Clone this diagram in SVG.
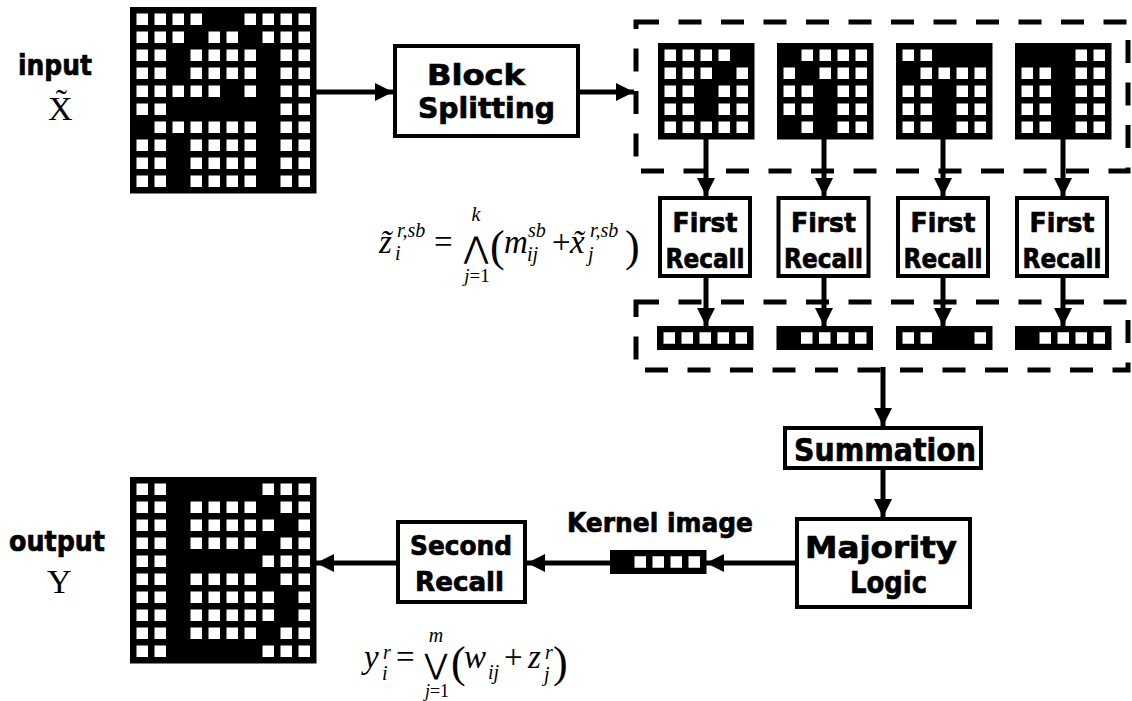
<svg xmlns="http://www.w3.org/2000/svg" xmlns:xlink="http://www.w3.org/1999/xlink" width="1132" height="701" viewBox="0 0 1132 701">
<style>
.box{fill:#fff;stroke:#000;stroke-width:4}
.lbl{font-family:"DejaVu Sans","Liberation Sans",sans-serif;font-weight:bold;fill:#000;stroke:#000;stroke-width:0.7}
.m{font-family:"Liberation Serif","Times New Roman",serif;font-style:italic;fill:#000}
.up{font-style:normal}
.op{font-family:"DejaVu Serif","DejaVu Sans",serif;font-style:normal}
.conn{stroke:#000;stroke-width:5;fill:none;marker-end:url(#ah)}
.dash{fill:none;stroke:#000;stroke-width:5;stroke-dasharray:23 19.5}
.grid{fill:#000}
</style>
<defs>
<marker id="ah" markerUnits="userSpaceOnUse" markerWidth="18" markerHeight="18" refX="18" refY="9" orient="auto"><path d="M0,0 L18,9 L0,18 z" fill="#000"/></marker>
<rect id="s" width="11.5" height="11.5" fill="#fff"/>
<g id="rA"><use href="#s" x="6.5"/><use href="#s" x="24.5"/><use href="#s" x="60.5"/><use href="#s" x="78.5"/><use href="#s" x="96.5"/><use href="#s" x="114.5"/><use href="#s" x="150.5"/><use href="#s" x="168.5"/></g>
<g id="rB"><use href="#s" x="6.5"/><use href="#s" x="24.5"/><use href="#s" x="132.5"/><use href="#s" x="150.5"/><use href="#s" x="168.5"/></g>
<g id="rC"><use href="#s" x="6.5"/><use href="#s" x="24.5"/><use href="#s" x="60.5"/><use href="#s" x="78.5"/><use href="#s" x="96.5"/><use href="#s" x="114.5"/><use href="#s" x="132.5"/><use href="#s" x="168.5"/></g>
</defs>
<rect width="1132" height="701" fill="#fff"/>

<g id="input-label">
<text class="lbl" x="18" y="75" font-size="28" textLength="74" lengthAdjust="spacingAndGlyphs">input</text>
<text class="m up" x="48" y="120" font-size="34">X̃</text>
</g>

<g id="input-image" transform="translate(130,7)">
<rect class="grid" width="186.5" height="186.5"/>
<g transform="translate(0,6.5)"><use href="#s" x="6.5"/><use href="#s" x="24.5"/><use href="#s" x="42.5"/><use href="#s" x="60.5"/><use href="#s" x="114.5"/><use href="#s" x="132.5"/><use href="#s" x="150.5"/><use href="#s" x="168.5"/></g>
<g transform="translate(0,24.5)"><use href="#s" x="6.5"/><use href="#s" x="24.5"/><use href="#s" x="42.5"/><use href="#s" x="78.5"/><use href="#s" x="96.5"/><use href="#s" x="132.5"/><use href="#s" x="150.5"/><use href="#s" x="168.5"/></g>
<use href="#rA" y="42.5"/>
<use href="#rA" y="60.5"/>
<g transform="translate(0,78.5)"><use href="#s" x="6.5"/><use href="#s" x="24.5"/><use href="#s" x="42.5"/><use href="#s" x="60.5"/><use href="#s" x="78.5"/><use href="#s" x="114.5"/><use href="#s" x="150.5"/><use href="#s" x="168.5"/></g>
<g transform="translate(0,96.5)"><use href="#s" x="6.5"/><use href="#s" x="24.5"/><use href="#s" x="150.5"/><use href="#s" x="168.5"/></g>
<g transform="translate(0,114.5)"><use href="#s" x="24.5"/><use href="#s" x="42.5"/><use href="#s" x="60.5"/><use href="#s" x="78.5"/><use href="#s" x="96.5"/><use href="#s" x="114.5"/><use href="#s" x="150.5"/><use href="#s" x="168.5"/></g>
<use href="#rA" y="132.5"/>
<use href="#rA" y="150.5"/>
<use href="#rA" y="168.5"/>
</g>

<g id="block-splitting">
<rect class="box" x="395" y="46" width="183" height="90"/>
<text class="lbl" x="427" y="85" font-size="29" textLength="98" lengthAdjust="spacingAndGlyphs">Block</text>
<text class="lbl" x="418" y="118" font-size="29" textLength="137" lengthAdjust="spacingAndGlyphs">Splitting</text>
</g>

<g id="blocks-group">
<rect class="dash" x="636" y="22" width="492" height="149"/>
<g id="block1" transform="translate(658,43)">
<rect class="grid" width="96.5" height="96.5"/>
<g transform="translate(0,6.5)"><use href="#s" x="6.5"/><use href="#s" x="24.5"/><use href="#s" x="42.5"/><use href="#s" x="60.5"/></g>
<g transform="translate(0,24.5)"><use href="#s" x="6.5"/><use href="#s" x="24.5"/><use href="#s" x="42.5"/><use href="#s" x="78.5"/></g>
<g transform="translate(0,42.5)"><use href="#s" x="6.5"/><use href="#s" x="24.5"/><use href="#s" x="60.5"/><use href="#s" x="78.5"/></g>
<g transform="translate(0,60.5)"><use href="#s" x="6.5"/><use href="#s" x="24.5"/><use href="#s" x="60.5"/><use href="#s" x="78.5"/></g>
<g transform="translate(0,78.5)"><use href="#s" x="6.5"/><use href="#s" x="24.5"/><use href="#s" x="42.5"/><use href="#s" x="60.5"/><use href="#s" x="78.5"/></g>
</g>
<g id="block2" transform="translate(777,43)">
<rect class="grid" width="96.5" height="96.5"/>
<g transform="translate(0,6.5)"><use href="#s" x="24.5"/><use href="#s" x="42.5"/><use href="#s" x="60.5"/><use href="#s" x="78.5"/></g>
<g transform="translate(0,24.5)"><use href="#s" x="6.5"/><use href="#s" x="42.5"/><use href="#s" x="60.5"/><use href="#s" x="78.5"/></g>
<g transform="translate(0,42.5)"><use href="#s" x="6.5"/><use href="#s" x="24.5"/><use href="#s" x="60.5"/><use href="#s" x="78.5"/></g>
<g transform="translate(0,60.5)"><use href="#s" x="6.5"/><use href="#s" x="24.5"/><use href="#s" x="60.5"/><use href="#s" x="78.5"/></g>
<g transform="translate(0,78.5)"><use href="#s" x="24.5"/><use href="#s" x="60.5"/><use href="#s" x="78.5"/></g>
</g>
<g id="block3" transform="translate(896,43)">
<rect class="grid" width="96.5" height="96.5"/>
<g transform="translate(0,6.5)"><use href="#s" x="6.5"/><use href="#s" x="24.5"/></g>
<g transform="translate(0,24.5)"><use href="#s" x="24.5"/><use href="#s" x="42.5"/><use href="#s" x="60.5"/><use href="#s" x="78.5"/></g>
<g transform="translate(0,42.5)"><use href="#s" x="6.5"/><use href="#s" x="24.5"/><use href="#s" x="60.5"/><use href="#s" x="78.5"/></g>
<g transform="translate(0,60.5)"><use href="#s" x="6.5"/><use href="#s" x="24.5"/><use href="#s" x="60.5"/><use href="#s" x="78.5"/></g>
<g transform="translate(0,78.5)"><use href="#s" x="6.5"/><use href="#s" x="24.5"/><use href="#s" x="60.5"/><use href="#s" x="78.5"/></g>
</g>
<g id="block4" transform="translate(1015,43)">
<rect class="grid" width="96.5" height="96.5"/>
<g transform="translate(0,6.5)"><use href="#s" x="60.5"/><use href="#s" x="78.5"/></g>
<g transform="translate(0,24.5)"><use href="#s" x="6.5"/><use href="#s" x="24.5"/><use href="#s" x="60.5"/><use href="#s" x="78.5"/></g>
<g transform="translate(0,42.5)"><use href="#s" x="6.5"/><use href="#s" x="24.5"/><use href="#s" x="60.5"/><use href="#s" x="78.5"/></g>
<g transform="translate(0,60.5)"><use href="#s" x="6.5"/><use href="#s" x="24.5"/><use href="#s" x="60.5"/><use href="#s" x="78.5"/></g>
<g transform="translate(0,78.5)"><use href="#s" x="6.5"/><use href="#s" x="24.5"/><use href="#s" x="60.5"/><use href="#s" x="78.5"/></g>
</g>
</g>

<g id="first-recall-1">
<rect class="box" x="660" y="198" width="90" height="78"/>
<text class="lbl" x="672.5" y="232" font-size="26" textLength="65" lengthAdjust="spacingAndGlyphs">First</text>
<text class="lbl" x="665.5" y="268" font-size="26" textLength="79" lengthAdjust="spacingAndGlyphs">Recall</text>
</g>
<g id="first-recall-2">
<rect class="box" x="778.5" y="198" width="90" height="78"/>
<text class="lbl" x="791" y="232" font-size="26" textLength="65" lengthAdjust="spacingAndGlyphs">First</text>
<text class="lbl" x="784" y="268" font-size="26" textLength="79" lengthAdjust="spacingAndGlyphs">Recall</text>
</g>
<g id="first-recall-3">
<rect class="box" x="898" y="198" width="90" height="78"/>
<text class="lbl" x="910.5" y="232" font-size="26" textLength="65" lengthAdjust="spacingAndGlyphs">First</text>
<text class="lbl" x="903.5" y="268" font-size="26" textLength="79" lengthAdjust="spacingAndGlyphs">Recall</text>
</g>
<g id="first-recall-4">
<rect class="box" x="1017" y="198" width="90" height="78"/>
<text class="lbl" x="1029.5" y="232" font-size="26" textLength="65" lengthAdjust="spacingAndGlyphs">First</text>
<text class="lbl" x="1022.5" y="268" font-size="26" textLength="79" lengthAdjust="spacingAndGlyphs">Recall</text>
</g>

<g id="formula-1" class="m">
<text x="379" y="253" font-size="33">z̃</text>
<text x="397" y="237" font-size="20">r,sb</text>
<text x="395" y="260" font-size="20">i</text>
<text class="up" x="434" y="253" font-size="33">=</text>
<text x="476" y="221" font-size="20" text-anchor="middle">k</text>
<text class="op" x="476" y="258" font-size="30" text-anchor="middle">⋀</text>
<text x="477" y="282" font-size="19" text-anchor="middle">j<tspan class="up">=1</tspan></text>
<text class="up" x="490" y="261" font-size="44">(</text>
<text x="504" y="253" font-size="33">m</text>
<text x="528" y="237" font-size="20">sb</text>
<text x="527" y="261" font-size="20">ij</text>
<text class="up" x="552" y="253" font-size="33">+</text>
<text x="570" y="253" font-size="33">x̃</text>
<text x="590" y="237" font-size="20">r,sb</text>
<text x="588" y="261" font-size="20">j</text>
<text class="up" x="625" y="261" font-size="44">)</text>
</g>

<g id="vectors-group">
<rect class="dash" x="636" y="302" width="492" height="68"/>
<g id="vec1" transform="translate(657,326)">
<rect class="grid" width="96.5" height="24"/>
<g transform="translate(0,6.25)"><use href="#s" x="6.5"/><use href="#s" x="24.5"/><use href="#s" x="42.5"/><use href="#s" x="60.5"/><use href="#s" x="78.5"/></g>
</g>
<g id="vec2" transform="translate(776.5,326)">
<rect class="grid" width="96.5" height="24"/>
<g transform="translate(0,6.25)"><use href="#s" x="24.5"/><use href="#s" x="42.5"/><use href="#s" x="60.5"/><use href="#s" x="78.5"/></g>
</g>
<g id="vec3" transform="translate(896,326)">
<rect class="grid" width="96.5" height="24"/>
<g transform="translate(0,6.25)"><use href="#s" x="6.5"/><use href="#s" x="24.5"/><use href="#s" x="78.5"/></g>
</g>
<g id="vec4" transform="translate(1015,326)">
<rect class="grid" width="96.5" height="24"/>
<g transform="translate(0,6.25)"><use href="#s" x="24.5"/><use href="#s" x="42.5"/><use href="#s" x="60.5"/><use href="#s" x="78.5"/></g>
</g>
</g>

<g id="summation">
<rect class="box" x="785" y="428" width="196" height="40"/>
<text class="lbl" x="794" y="461" font-size="32" textLength="182" lengthAdjust="spacingAndGlyphs">Summation</text>
</g>

<g id="majority-logic">
<rect class="box" x="797" y="519" width="173" height="88"/>
<text class="lbl" x="805" y="558" font-size="30" textLength="152" lengthAdjust="spacingAndGlyphs">Majority</text>
<text class="lbl" x="850" y="593" font-size="30" textLength="77" lengthAdjust="spacingAndGlyphs">Logic</text>
</g>

<g id="kernel-image">
<text class="lbl" x="567" y="532" font-size="26" textLength="186" lengthAdjust="spacingAndGlyphs">Kernel image</text>
<g transform="translate(610,550)">
<rect class="grid" width="96.5" height="24"/>
<g transform="translate(0,6.25)"><use href="#s" x="24.5"/><use href="#s" x="42.5"/><use href="#s" x="60.5"/><use href="#s" x="78.5"/></g>
</g>
</g>

<g id="second-recall">
<rect class="box" x="398" y="522" width="127" height="80"/>
<text class="lbl" x="410" y="555" font-size="26" textLength="102" lengthAdjust="spacingAndGlyphs">Second</text>
<text class="lbl" x="415" y="591" font-size="26" textLength="89" lengthAdjust="spacingAndGlyphs">Recall</text>
</g>

<g id="formula-2" class="m">
<text x="364" y="668" font-size="33">y</text>
<text x="383" y="659" font-size="20">r</text>
<text x="382" y="680" font-size="20">i</text>
<text class="up" x="396" y="668" font-size="33">=</text>
<text x="436" y="642" font-size="20" text-anchor="middle">m</text>
<text class="op" x="436" y="674" font-size="28" text-anchor="middle">⋁</text>
<text x="437" y="697" font-size="18" text-anchor="middle">j<tspan class="up">=1</tspan></text>
<text class="up" x="451" y="677" font-size="44">(</text>
<text x="464" y="668" font-size="33">w</text>
<text x="488" y="679" font-size="20">ij</text>
<text class="up" x="504" y="668" font-size="33">+</text>
<text x="528" y="668" font-size="33">z</text>
<text x="545" y="659" font-size="20">r</text>
<text x="544" y="681" font-size="20">j</text>
<text class="up" x="553" y="677" font-size="44">)</text>
</g>

<g id="output-label">
<text class="lbl" x="9" y="551" font-size="28" textLength="96" lengthAdjust="spacingAndGlyphs">output</text>
<text class="m up" x="47" y="593" font-size="34">Y</text>
</g>

<g id="output-image" transform="translate(130,477)">
<rect class="grid" width="186.5" height="186.5"/>
<use href="#rB" y="6.5"/>
<use href="#rA" y="24.5"/>
<use href="#rC" y="42.5"/>
<use href="#rA" y="60.5"/>
<use href="#rB" y="78.5"/>
<use href="#rA" y="96.5"/>
<use href="#rC" y="114.5"/>
<use href="#rC" y="132.5"/>
<use href="#rA" y="150.5"/>
<use href="#rB" y="168.5"/>
</g>

<g id="connectors">
<line class="conn" x1="316" y1="92" x2="393" y2="92"/>
<line class="conn" x1="580" y1="92" x2="634" y2="92"/>
<line class="conn" x1="706" y1="139" x2="706" y2="196"/>
<line class="conn" x1="824" y1="139" x2="824" y2="196"/>
<line class="conn" x1="943" y1="139" x2="943" y2="196"/>
<line class="conn" x1="1063" y1="139" x2="1063" y2="196"/>
<line class="conn" x1="706" y1="278" x2="706" y2="326"/>
<line class="conn" x1="824" y1="278" x2="824" y2="326"/>
<line class="conn" x1="943" y1="278" x2="943" y2="326"/>
<line class="conn" x1="1063" y1="278" x2="1063" y2="326"/>
<line class="conn" x1="883" y1="367" x2="883" y2="426"/>
<line class="conn" x1="883" y1="470" x2="883" y2="517"/>
<line class="conn" x1="795" y1="563" x2="706" y2="563"/>
<line class="conn" x1="610" y1="563" x2="527" y2="563"/>
<line class="conn" x1="396" y1="563" x2="316" y2="563"/>
</g>
</svg>
